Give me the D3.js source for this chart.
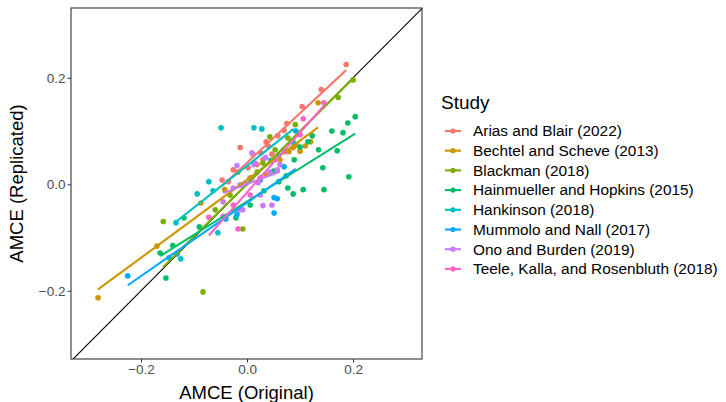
<!DOCTYPE html>
<html><head><meta charset="utf-8">
<script src="https://cdn.jsdelivr.net/npm/d3@7"></script>
<style>body{margin:0;background:#fff;} text{font-family:"Liberation Sans",Arial,sans-serif;}</style>
</head><body><svg id="c" width="726" height="402"></svg>
<script>
const studies = ["Arias and Blair (2022)","Bechtel and Scheve (2013)","Blackman (2018)","Hainmueller and Hopkins (2015)","Hankinson (2018)","Mummolo and Nall (2017)","Ono and Burden (2019)","Teele, Kalla, and Rosenbluth (2018)"];
const colors = ["#F8766D","#CD9600","#7CAE00","#00BE67","#00BFC4","#00A9FF","#C77CFF","#FF61CC"];
const xTicks = [-0.2, 0.0, 0.2];
const yTicks = [-0.2, 0.0, 0.2];

// [original, replicated]
const arias = [[0.187,0.225],[0.140,0.178],[0.104,0.146],[0.075,0.114],[0.070,0.101],[0.058,0.091],[0.040,0.072],[-0.013,0.069],[0.047,0.057],[0.019,0.037],[-0.026,0.027],[-0.047,0.008],[0.011,0.057],[0.026,0.059],[0.030,0.046],[0.002,0.031],[0.036,0.080],[-0.035,0.005]];
const bechtel = [[-0.281,-0.213],[-0.170,-0.116],[-0.087,-0.035],[0.134,0.153],[0.087,0.069],[0.079,0.061],[0.092,0.074],[0.036,0.018],[-0.042,-0.010],[0.006,0.012],[0.062,0.046],[-0.017,0.023],[0.110,0.072],[0.120,0.080],[0.100,0.062]];
const blackman = [[0.200,0.196],[0.172,0.163],[0.091,0.112],[0.043,0.089],[0.077,0.087],[-0.158,-0.070],[-0.008,-0.084],[-0.083,-0.202],[0.053,0.065],[0.019,0.023],[-0.032,-0.020],[-0.060,-0.048],[0.030,0.040]];
const hainmueller = [[0.204,0.127],[0.181,0.097],[0.170,0.063],[0.143,0.031],[0.192,0.014],[0.145,-0.010],[0.106,-0.010],[0.077,-0.007],[0.060,0.005],[0.074,0.016],[0.089,0.046],[0.115,0.080],[0.123,0.091],[0.100,0.070],[0.087,-0.018],[-0.119,-0.063],[-0.164,-0.129],[-0.153,-0.176],[-0.021,-0.063],[0.032,-0.012],[0.006,-0.039],[0.160,0.100],[0.135,0.065],[0.050,0.025],[-0.090,-0.080],[-0.140,-0.115],[0.190,0.115]];
const hankinson = [[-0.049,0.106],[0.013,0.106],[0.028,0.104],[-0.072,0.005],[-0.064,-0.012],[-0.094,-0.018],[-0.134,-0.072],[-0.055,-0.091],[-0.125,-0.140],[0.045,0.045],[0.070,0.062],[0.088,0.078],[0.060,0.055]];
const mummolo = [[-0.225,-0.172],[-0.147,-0.138],[-0.132,-0.131],[0.051,-0.025],[0.057,-0.027],[0.070,0.033],[0.092,0.100],[0.051,-0.054],[-0.019,-0.057],[-0.040,-0.065],[0.025,0.008]];
const ono = [[0.009,0.059],[-0.019,0.035],[0.015,0.040],[-0.008,-0.048],[-0.045,-0.033],[0.025,-0.020],[0.030,-0.040],[0.062,0.037],[0.057,0.027],[-0.026,-0.007],[-0.013,-0.001],[0.009,0.012],[0.013,0.037],[0.047,-0.039],[-0.015,-0.048],[0.021,0.003],[-0.002,0.001],[0.006,0.010],[0.043,0.023],[0.035,0.050]];
const teele = [[0.145,0.153],[0.106,0.123],[-0.017,-0.084],[-0.072,-0.062],[0.053,0.046],[0.025,0.012],[0.006,-0.020],[-0.026,-0.039],[0.100,0.093],[0.072,0.061],[-0.045,-0.060]];
const seriesData = [arias, bechtel, blackman, hainmueller, hankinson, mummolo, ono, teele];

const svg = d3.select("#c");
const L = 71, R = 422, T = 8, B = 359;
const x = d3.scaleLinear().domain([-0.332, 0.330]).range([L, R]);
const y = d3.scaleLinear().domain([-0.328, 0.331]).range([B, T]);

svg.append("defs").append("clipPath").attr("id","clip").append("rect").attr("x",L).attr("y",T).attr("width",R-L).attr("height",B-T);
const plot = svg.append("g").attr("clip-path","url(#clip)");

plot.append("line").attr("x1",x(-0.4)).attr("y1",y(-0.4)).attr("x2",x(0.4)).attr("y2",y(0.4)).attr("stroke","#000").attr("stroke-width",1.1);

function fit(pts){
  const mx=d3.mean(pts,d=>d[0]), my=d3.mean(pts,d=>d[1]);
  let sxy=0,sxx=0; pts.forEach(d=>{sxy+=(d[0]-mx)*(d[1]-my); sxx+=(d[0]-mx)**2;});
  const b=sxy/sxx, a=my-b*mx; const e=d3.extent(pts,d=>d[0]);
  return [[e[0],a+b*e[0]],[e[1],a+b*e[1]]];
}

seriesData.forEach((pts,i)=>{
  plot.append("g").selectAll("circle").data(pts).join("circle")
    .attr("cx",d=>x(d[0])).attr("cy",d=>y(d[1])).attr("r",2.8).attr("fill",colors[i]);
});
seriesData.forEach((pts,i)=>{
  const f=fit(pts);
  plot.append("line").attr("x1",x(f[0][0])).attr("y1",y(f[0][1])).attr("x2",x(f[1][0])).attr("y2",y(f[1][1]))
    .attr("stroke",colors[i]).attr("stroke-width",2.1);
});

svg.append("rect").attr("x",L).attr("y",T).attr("width",R-L).attr("height",B-T).attr("fill","none").attr("stroke","#333").attr("stroke-width",1.1);

const fmt = d=> d===0 ? "0.0" : (d<0?"\u2212":"")+Math.abs(d).toFixed(1);
const xa = svg.append("g").attr("transform",`translate(0,${B})`).call(d3.axisBottom(x).tickValues(xTicks).tickSize(3.5).tickPadding(2).tickFormat(fmt));
const ya = svg.append("g").attr("transform",`translate(${L},0)`).call(d3.axisLeft(y).tickValues(yTicks).tickSize(3.5).tickPadding(2).tickFormat(fmt));
[xa,ya].forEach(a=>{a.select(".domain").remove(); a.selectAll("line").attr("stroke","#333"); a.selectAll("text").attr("fill","#4D4D4D").style("font-size","13.5px").style("font-family","Liberation Sans, Arial, sans-serif");});

svg.append("text").attr("x",(L+R)/2).attr("y",399).attr("text-anchor","middle").style("font-size","18.5px").text("AMCE (Original)");
svg.append("text").attr("transform",`translate(23,${(T+B)/2}) rotate(-90)`).attr("text-anchor","middle").style("font-size","18.5px").text("AMCE (Replicated)");

const lg = svg.append("g");
lg.append("text").attr("x",441).attr("y",109).style("font-size","19px").text("Study");
studies.forEach((s,i)=>{
  const yy = 131 + i*19.7;
  lg.append("line").attr("x1",445).attr("x2",461).attr("y1",yy).attr("y2",yy).attr("stroke",colors[i]).attr("stroke-width",2.1);
  lg.append("circle").attr("cx",453).attr("cy",yy).attr("r",2.6).attr("fill",colors[i]);
  lg.append("text").attr("x",473).attr("y",yy+5.3).style("font-size","15.4px").text(s);
});
</script></body></html>
